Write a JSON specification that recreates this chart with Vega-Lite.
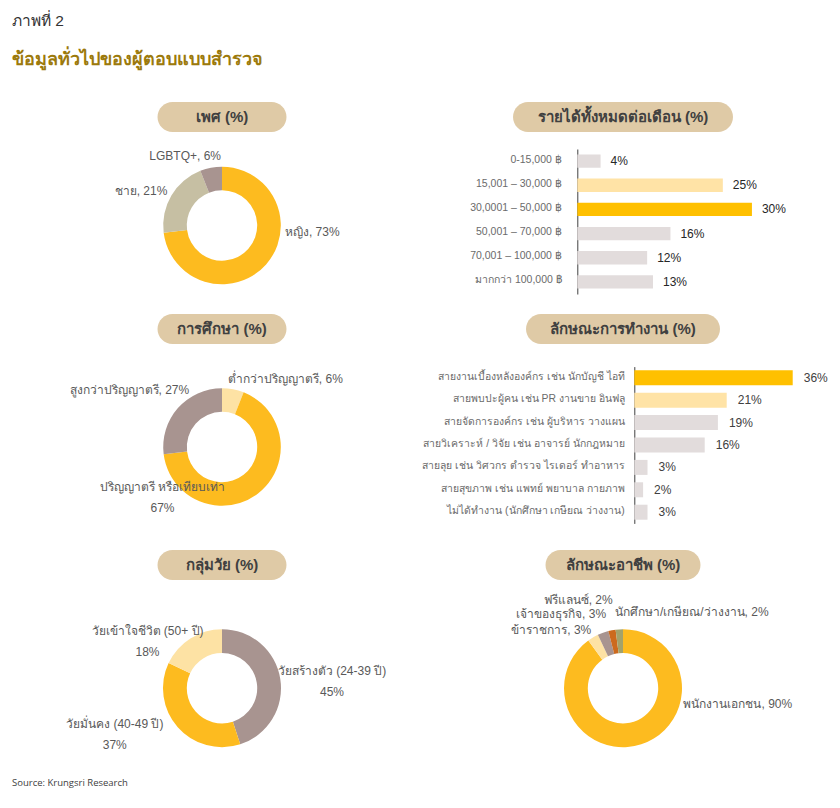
{"$schema":"https://vega.github.io/schema/vega-lite/v6.json","background":"white","padding":{"left":0,"top":14,"right":0,"bottom":0},"config":{"view":{"stroke":null},"font":"Liberation Sans","text":{"font":"Liberation Sans"}},"title":{"text":"ภาพที่ 2","subtitle":"ข้อมูลทั่วไปของผู้ตอบแบบสำรวจ","anchor":"start","frame":"group","dx":12,"fontSize":15.5,"fontWeight":"normal","color":"#333333","subtitleFontSize":18,"subtitleFontWeight":"bold","subtitleColor":"#9C7A0C","subtitlePadding":21,"offset":33.5},"resolve":{"scale":{"color":"independent"}},"columns":2,"spacing":0,"bounds":"flush","concat":[
{"width":444,"height":35,"data":{"values":[{"title":"เพศ (%)"}]},"layer":[{"mark":{"type":"bar","width":129,"cornerRadius":15,"color":"#DFCAA6"}},{"mark":{"type":"text","fontSize":15,"fontWeight":"bold","color":"#404040"},"encoding":{"text":{"field":"title"}}}],"encoding":{"x":{"field":"title","type":"nominal","axis":null},"y":{"field":"title","type":"nominal","axis":null,"scale":{"range":[0,30],"padding":0}}}},
{"width":358,"height":35,"data":{"values":[{"title":"รายได้ทั้งหมดต่อเดือน (%)"}]},"layer":[{"mark":{"type":"bar","width":220,"cornerRadius":15,"color":"#DFCAA6"}},{"mark":{"type":"text","fontSize":15,"fontWeight":"bold","color":"#404040"},"encoding":{"text":{"field":"title"}}}],"encoding":{"x":{"field":"title","type":"nominal","axis":null},"y":{"field":"title","type":"nominal","axis":null,"scale":{"range":[0,30],"padding":0}}}},
{"width":444,"height":177,"data":{"values":[{"cat":"หญิง","value":73,"order":1,"label":"หญิง, 73%"},{"cat":"ชาย","value":21,"order":2,"label":"ชาย, 21%"},{"cat":"LGBTQ+","value":6,"order":3,"label":"LGBTQ+, 6%"}]},"encoding":{"theta":{"field":"value","type":"quantitative","stack":true,"scale":{"domain":[0,100]}},"order":{"field":"order","type":"ordinal"}},"layer":[{"mark":{"type":"arc","innerRadius":35.2,"outerRadius":58.8},"encoding":{"color":{"field":"cat","type":"nominal","legend":null,"scale":{"domain":["หญิง","ชาย","LGBTQ+"],"range":["#FDBB1F","#C6BFA3","#A89490"]}}}},{"mark":{"type":"text","radius":47,"fontSize":12,"color":"#595959","dx":{"expr":"datum.order==1?55:datum.order==2?-40.5:-28"},"dy":{"expr":"datum.order==1?-25:datum.order==2?-11:-23"}},"encoding":{"text":{"field":"label"}}}]},
{"width":358,"height":177,"data":{"values":[{"band":"0-15,000 ฿","value":4,"pct":"4%"},{"band":"15,001 – 30,000 ฿","value":25,"pct":"25%"},{"band":"30,0001 – 50,000 ฿","value":30,"pct":"30%"},{"band":"50,001 – 70,000 ฿","value":16,"pct":"16%"},{"band":"70,001 – 100,000 ฿","value":12,"pct":"12%"},{"band":"มากกว่า 100,000 ฿","value":13,"pct":"13%"}]},"encoding":{"x":{"field":"value","type":"quantitative","axis":null,"scale":{"domain":[-22.9,38.6],"nice":false,"zero":false}},"y":{"field":"band","type":"nominal","sort":null,"title":null,"scale":{"range":[12,157],"paddingInner":0.45,"paddingOuter":0.225},"axis":{"offset":-133.3,"ticks":false,"domain":true,"domainColor":"#404040","domainWidth":1,"labelPadding":16,"labelFontSize":10.5,"labelColor":"#6b6b6b","labelLimit":300,"labelOffset":-1.5}}},"layer":[{"mark":{"type":"bar"},"encoding":{"x2":{"datum":0},"color":{"field":"band","type":"nominal","legend":null,"sort":null,"scale":{"domain":["0-15,000 ฿","15,001 – 30,000 ฿","30,0001 – 50,000 ฿","50,001 – 70,000 ฿","70,001 – 100,000 ฿","มากกว่า 100,000 ฿"],"range":["#E2DCDC","#FFE3A6","#FFC000","#E2DCDC","#E2DCDC","#E2DCDC"]}}}},{"mark":{"type":"text","align":"left","dx":10,"fontSize":12,"color":"#262626"},"encoding":{"text":{"field":"pct"}}}]},
{"width":444,"height":30,"data":{"values":[{"title":"การศึกษา (%)"}]},"layer":[{"mark":{"type":"bar","width":129,"cornerRadius":15,"color":"#DFCAA6"}},{"mark":{"type":"text","fontSize":15,"fontWeight":"bold","color":"#404040"},"encoding":{"text":{"field":"title"}}}],"encoding":{"x":{"field":"title","type":"nominal","axis":null},"y":{"field":"title","type":"nominal","axis":null,"scale":{"range":[0,30],"padding":0}}}},
{"width":358,"height":30,"data":{"values":[{"title":"ลักษณะการทำงาน (%)"}]},"layer":[{"mark":{"type":"bar","width":194,"cornerRadius":15,"color":"#DFCAA6"}},{"mark":{"type":"text","fontSize":15,"fontWeight":"bold","color":"#404040"},"encoding":{"text":{"field":"title"}}}],"encoding":{"x":{"field":"title","type":"nominal","axis":null},"y":{"field":"title","type":"nominal","axis":null,"scale":{"range":[0,30],"padding":0}}}},
{"width":444,"height":206,"data":{"values":[{"cat":"ต่ำกว่าปริญญาตรี","value":6,"order":1,"label":"ต่ำกว่าปริญญาตรี, 6%"},{"cat":"ปริญญาตรี หรือเทียบเท่า","value":67,"order":2,"label":"ปริญญาตรี หรือเทียบเท่า\n67%"},{"cat":"สูงกว่าปริญญาตรี","value":27,"order":3,"label":"สูงกว่าปริญญาตรี, 27%"}]},"encoding":{"theta":{"field":"value","type":"quantitative","stack":true,"scale":{"domain":[0,100]}},"order":{"field":"order","type":"ordinal"}},"layer":[{"mark":{"type":"arc","innerRadius":35.2,"outerRadius":58.8},"encoding":{"color":{"field":"cat","type":"nominal","legend":null,"scale":{"domain":["ต่ำกว่าปริญญาตรี","ปริญญาตรี หรือเทียบเท่า","สูงกว่าปริญญาตรี"],"range":["#FDE2A4","#FDBB1F","#A89490"]}}}},{"mark":{"type":"text","radius":47,"fontSize":12,"color":"#595959","lineBreak":"\n","lineHeight":21,"dx":{"expr":"datum.order==1?54.5:datum.order==2?-88.3:-57.4"},"dy":{"expr":"datum.order==1?-21.5:datum.order==2?2.6:-26"}},"encoding":{"text":{"field":"label"}}}]},
{"width":358,"height":206,"data":{"values":[{"band":"สายงานเบื้องหลังองค์กร เช่น นักบัญชี ไอที","value":36,"pct":"36%"},{"band":"สายพบปะผู้คน เช่น PR งานขาย อินฟลู","value":21,"pct":"21%"},{"band":"สายจัดการองค์กร เช่น ผู้บริหาร วางแผน","value":19,"pct":"19%"},{"band":"สายวิเคราะห์ / วิจัย เช่น อาจารย์ นักกฎหมาย","value":16,"pct":"16%"},{"band":"สายลุย เช่น วิศวกร ตำรวจ ไรเดอร์ ทำอาหาร","value":3,"pct":"3%"},{"band":"สายสุขภาพ เช่น แพทย์ พยาบาล กายภาพ","value":2,"pct":"2%"},{"band":"ไม่ได้ทำงาน (นักศึกษา เกษียณ ว่างงาน)","value":3,"pct":"3%"}]},"encoding":{"x":{"field":"value","type":"quantitative","axis":null,"scale":{"domain":[-43.25,38.11],"nice":false,"zero":false}},"y":{"field":"band","type":"nominal","sort":null,"title":null,"scale":{"range":[22.6,179.4],"paddingInner":0.33,"paddingOuter":0.165},"axis":{"offset":-190.3,"ticks":false,"domain":true,"domainColor":"#404040","domainWidth":1,"labelPadding":10,"labelFontSize":10.4,"labelColor":"#6b6b6b","labelLimit":300,"labelOffset":-1}}},"layer":[{"mark":{"type":"bar"},"encoding":{"x2":{"datum":0},"color":{"field":"band","type":"nominal","legend":null,"sort":null,"scale":{"domain":["สายงานเบื้องหลังองค์กร เช่น นักบัญชี ไอที","สายพบปะผู้คน เช่น PR งานขาย อินฟลู","สายจัดการองค์กร เช่น ผู้บริหาร วางแผน","สายวิเคราะห์ / วิจัย เช่น อาจารย์ นักกฎหมาย","สายลุย เช่น วิศวกร ตำรวจ ไรเดอร์ ทำอาหาร","สายสุขภาพ เช่น แพทย์ พยาบาล กายภาพ","ไม่ได้ทำงาน (นักศึกษา เกษียณ ว่างงาน)"],"range":["#FFC000","#FFE3A6","#E2DCDC","#E2DCDC","#E2DCDC","#E2DCDC","#E2DCDC"]}}}},{"mark":{"type":"text","align":"left","dx":11,"fontSize":12,"color":"#404040"},"encoding":{"text":{"field":"pct"}}}]},
{"width":444,"height":55.6,"data":{"values":[{"title":"กลุ่มวัย (%)"}]},"layer":[{"mark":{"type":"bar","width":129,"cornerRadius":15,"color":"#DFCAA6"}},{"mark":{"type":"text","fontSize":15,"fontWeight":"bold","color":"#404040"},"encoding":{"text":{"field":"title"}}}],"encoding":{"x":{"field":"title","type":"nominal","axis":null},"y":{"field":"title","type":"nominal","axis":null,"scale":{"range":[0,30],"padding":0}}}},
{"width":358,"height":55.6,"data":{"values":[{"title":"ลักษณะอาชีพ (%)"}]},"layer":[{"mark":{"type":"bar","width":155,"cornerRadius":15,"color":"#DFCAA6"}},{"mark":{"type":"text","fontSize":15,"fontWeight":"bold","color":"#404040"},"encoding":{"text":{"field":"title"}}}],"encoding":{"x":{"field":"title","type":"nominal","axis":null},"y":{"field":"title","type":"nominal","axis":null,"scale":{"range":[0,30],"padding":0}}}},
{"width":444,"height":164.4,"data":{"values":[{"cat":"วัยสร้างตัว (24-39 ปี)","value":45,"order":1,"label":"วัยสร้างตัว (24-39 ปี)\n45%"},{"cat":"วัยมั่นคง (40-49 ปี)","value":37,"order":2,"label":"วัยมั่นคง (40-49 ปี)\n37%"},{"cat":"วัยเข้าใจชีวิต (50+ ปี)","value":18,"order":3,"label":"วัยเข้าใจชีวิต (50+ ปี)\n18%"}]},"encoding":{"theta":{"field":"value","type":"quantitative","stack":true,"scale":{"domain":[0,100]}},"order":{"field":"order","type":"ordinal"}},"layer":[{"mark":{"type":"arc","innerRadius":35.2,"outerRadius":59},"encoding":{"color":{"field":"cat","type":"nominal","legend":null,"scale":{"domain":["วัยสร้างตัว (24-39 ปี)","วัยมั่นคง (40-49 ปี)","วัยเข้าใจชีวิต (50+ ปี)"],"range":["#A89490","#FDBB1F","#FDE2A4"]}}}},{"mark":{"type":"text","radius":47,"fontSize":12,"color":"#595959","lineBreak":"\n","lineHeight":21,"dx":{"expr":"datum.order==1?63.6:datum.order==2?-72:-49.3"},"dy":{"expr":"datum.order==1?-10:datum.order==2?4.4:-17.8"}},"encoding":{"text":{"field":"label"}}}]},
{"width":358,"height":164.4,"data":{"values":[{"cat":"พนักงานเอกชน","value":90,"order":1,"label":"พนักงานเอกชน, 90%"},{"cat":"ข้าราชการ","value":3,"order":2,"label":"ข้าราชการ, 3%"},{"cat":"เจ้าของธุรกิจ","value":3,"order":3,"label":"เจ้าของธุรกิจ, 3%"},{"cat":"ฟรีแลนซ์","value":2,"order":4,"label":"ฟรีแลนซ์, 2%"},{"cat":"นักศึกษา/เกษียณ/ว่างงาน","value":2,"order":5,"label":"นักศึกษา/เกษียณ/ว่างงาน, 2%"}]},"encoding":{"theta":{"field":"value","type":"quantitative","stack":true,"scale":{"domain":[0,100]}},"order":{"field":"order","type":"ordinal"}},"layer":[{"mark":{"type":"arc","innerRadius":35.2,"outerRadius":59},"encoding":{"color":{"field":"cat","type":"nominal","legend":null,"scale":{"domain":["พนักงานเอกชน","ข้าราชการ","เจ้าของธุรกิจ","ฟรีแลนซ์","นักศึกษา/เกษียณ/ว่างงาน"],"range":["#FDBB1F","#FDE2A4","#A89490","#CC6A1E","#A3A26B"]}}}},{"mark":{"type":"text","radius":47,"fontSize":12,"color":"#595959","dx":{"expr":"datum.order==1?100.3:datum.order==2?-47.8:datum.order==3?-46:datum.order==4?-36:71.7"},"dy":{"expr":"datum.order==1?-28.5:datum.order==2?-17.6:datum.order==3?-30:datum.order==4?-41.6:-29.6"}},"encoding":{"text":{"field":"label"}}}]},
{"width":444,"height":24,"data":{"values":[{"source":"Source: Krungsri Research","at":0}]},"mark":{"type":"text","align":"left","font":"Open Sans","fontSize":9.5,"color":"#404040"},"encoding":{"x":{"field":"at","type":"quantitative","axis":null,"scale":{"domain":[-12,432],"nice":false,"zero":false}},"text":{"field":"source"}}}
]}
